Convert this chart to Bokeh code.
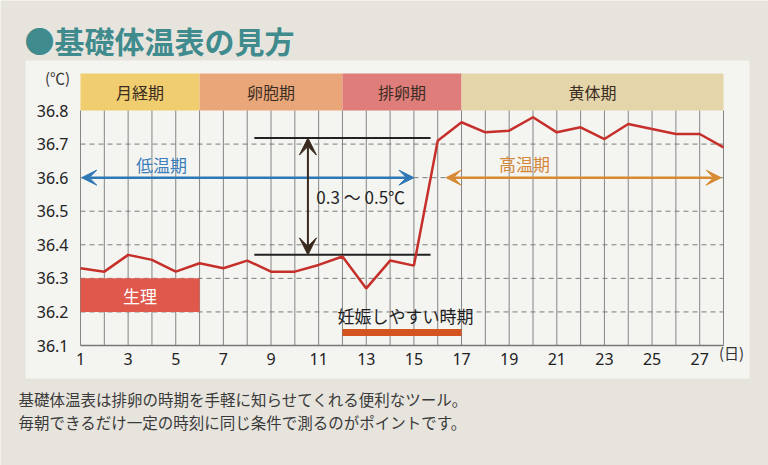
from bokeh.plotting import figure
from bokeh.models import Range1d, Arrow, VeeHead
from bokeh.core.properties import value
from bokeh.embed import file_html
from bokeh.resources import INLINE

# ---------------- data ----------------
days = list(range(1, 29))
temps = [36.33, 36.32, 36.37, 36.355, 36.32, 36.345, 36.33, 36.353, 36.32, 36.32,
         36.34, 36.365, 36.27, 36.353, 36.338, 36.71, 36.765, 36.735, 36.74, 36.78,
         36.735, 36.75, 36.715, 36.76, 36.745, 36.73, 36.73, 36.69]

y_ticks = [36.1, 36.2, 36.3, 36.4, 36.5, 36.6, 36.7, 36.8]
y_tick_labels = ["36.1", "36.2", "36.3", "36.4", "36.5", "36.6", "36.7", "36.8"]
x_ticks = [1, 3, 5, 7, 9, 11, 13, 15, 17, 19, 21, 23, 25, 27]
x_tick_labels = [str(d) for d in x_ticks]

phase_names = ["月経期", "卵胞期", "排卵期", "黄体期"]
phase_start = [1, 6, 12, 17]
phase_end = [6, 12, 17, 28]
phase_colors = ["#f0cd6e", "#e9a779", "#de7d7a", "#e4d5aa"]

low_phase = [1.05, 15.0]       # 低温期 arrow span (days)
high_phase = [16.35, 27.9]     # 高温期 arrow span (days)
menses = [1, 6]                # 生理 box (days)
fertile = [12, 17]             # 妊娠しやすい時期 (days)
diff_levels = [36.718, 36.37]  # 0.3～0.5℃ reference lines
diff_span = [8.3, 15.7]
diff_arrow_day = 10.55

title_text = "●基礎体温表の見方"
caption_lines = ["基礎体温表は排卵の時期を手軽に知らせてくれる便利なツール。",
                 "毎朝できるだけ一定の時刻に同じ条件で測るのがポイントです。"]

# ---------------- layout helpers (pixel -> data) ----------------
W, H = 768, 465
PX_DAY1, PX_PER_DAY = 80.0, 23.815
PY_BASE, PX_PER_DEG = 345.0, 335.7


def dx(px):
    return 1 + (px - PX_DAY1) / PX_PER_DAY


def dy(py):
    return 36.1 + (PY_BASE - py) / PX_PER_DEG


CJK = value("Noto Sans CJK JP")
NUM = value("Noto Sans")

p = figure(width=W, height=H, output_backend="svg", toolbar_location=None,
           x_range=Range1d(dx(0), dx(W)), y_range=Range1d(dy(H), dy(0)),
           x_axis_location=None, y_axis_location=None, min_border=0)
p.grid.visible = False
p.outline_line_color = None
p.background_fill_color = "#e7e4dd"
p.border_fill_color = "#e7e4dd"

# panel
p.quad(left=[dx(25)], right=[dx(749)], bottom=[dy(378)], top=[dy(60)],
       fill_color="#f4f4f1", line_color=None)

# phase header band
band_top = dy(73)
p.quad(left=phase_start, right=phase_end, bottom=[y_ticks[-1]] * 4, top=[band_top] * 4,
       fill_color=phase_colors, line_color=None)
p.text(x=[(a + b) / 2 for a, b in zip(phase_start, phase_end)],
       y=[(y_ticks[-1] + band_top) / 2] * 4, text=phase_names,
       text_font=CJK, text_font_size="16px", text_color="#3b2c22",
       text_align="center", text_baseline="middle")

# grid
p.segment(x0=days, x1=days, y0=[y_ticks[0]] * len(days), y1=[y_ticks[-1]] * len(days),
          line_color="#858585", line_width=1)
inner = y_ticks[1:-1]
p.segment(x0=[days[0]] * len(inner), x1=[days[-1]] * len(inner), y0=inner, y1=inner,
          line_color="#7c7c7c", line_width=1, line_dash="5 4")
p.segment(x0=[days[0]], x1=[days[-1]], y0=[y_ticks[0]], y1=[y_ticks[0]],
          line_color="#777777", line_width=1.3)

# tick labels
p.text(x=[dx(68)] * len(y_ticks), y=y_ticks, text=y_tick_labels, text_font=NUM,
       text_font_size="16px", text_color="#222222", text_align="right", text_baseline="middle")
p.text(x=x_ticks, y=[dy(358)] * len(x_ticks), text=x_tick_labels, text_font=NUM,
       text_font_size="16px", text_color="#222222", text_align="center", text_baseline="middle")
p.text(x=[dx(57)], y=[dy(77)], text=["(℃)"], text_font=CJK, text_font_size="15px",
       text_color="#333333", text_align="center", text_baseline="middle")
p.text(x=[dx(731)], y=[dy(352)], text=["(日)"], text_font=CJK, text_font_size="15px",
       text_color="#333333", text_align="center", text_baseline="middle")

# 生理 box
p.quad(left=[menses[0]], right=[menses[1]], bottom=[36.2], top=[36.3],
       fill_color="#e0574b", line_color=None)
p.text(x=[sum(menses) / 2], y=[36.25], text=["生理"], text_font=CJK, text_font_size="17px",
       text_color="white", text_align="center", text_baseline="middle")

# fertile window
p.segment(x0=[fertile[0]], x1=[fertile[1]], y0=[36.139], y1=[36.139],
          line_color="#d4531f", line_width=7)
p.text(x=[14.65], y=[36.19], text=["妊娠しやすい時期"], text_font=CJK, text_font_size="17px",
       text_color="#1e1e1e", text_align="center", text_baseline="middle")

# low / high phase arrows
p.add_layout(Arrow(x_start=low_phase[0], y_start=36.6, x_end=low_phase[1], y_end=36.6,
                   line_color="#2f78b6", line_width=2.5,
                   start=VeeHead(size=15, fill_color="#2f78b6", line_color="#2f78b6"),
                   end=VeeHead(size=15, fill_color="#2f78b6", line_color="#2f78b6")))
p.text(x=[4.4], y=[36.639], text=["低温期"], text_font=CJK, text_font_size="17px",
       text_color="#3c7fbb", text_align="center", text_baseline="middle")
p.add_layout(Arrow(x_start=high_phase[0], y_start=36.6, x_end=high_phase[1], y_end=36.6,
                   line_color="#d88a33", line_width=2.5,
                   start=VeeHead(size=15, fill_color="#d88a33", line_color="#d88a33"),
                   end=VeeHead(size=15, fill_color="#d88a33", line_color="#d88a33")))
p.text(x=[19.64], y=[36.642], text=["高温期"], text_font=CJK, text_font_size="17px",
       text_color="#d4893a", text_align="center", text_baseline="middle")

# temperature difference markers
p.segment(x0=[diff_span[0]] * 2, x1=[diff_span[1]] * 2, y0=diff_levels, y1=diff_levels,
          line_color="#222222", line_width=2)
p.add_layout(Arrow(x_start=diff_arrow_day, y_start=diff_levels[1], x_end=diff_arrow_day,
                   y_end=diff_levels[0], line_color="#3a2a1e", line_width=2,
                   start=VeeHead(size=17, fill_color="#3a2a1e", line_color="#3a2a1e"),
                   end=VeeHead(size=17, fill_color="#3a2a1e", line_color="#3a2a1e")))
p.text(x=[10.9], y=[36.544], text=["0.3 ～ 0.5℃"], text_font=CJK, text_font_size="17px",
       text_color="#1e1e1e", text_align="left", text_baseline="middle")

# temperature line
p.line(days, temps, line_color="#c62f2a", line_width=2.5)

# title and caption
p.text(x=[dx(24)], y=[dy(39)], text=[title_text], text_font=CJK, text_font_size="30px",
       text_font_style="bold", text_color="#3f8b8d", text_align="left", text_baseline="middle")
p.text(x=[dx(18)] * 2, y=[dy(398), dy(421)], text=caption_lines, text_font=CJK,
       text_font_size="15.5px", text_color="#3a3a3a", text_align="left", text_baseline="middle")

open("out.html", "w").write(file_html(p, INLINE))
